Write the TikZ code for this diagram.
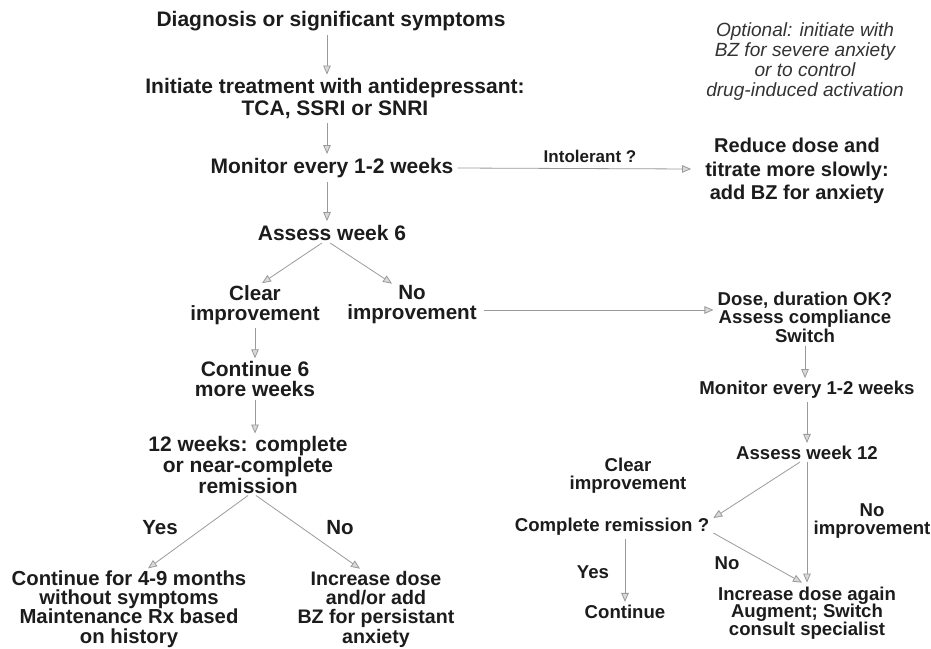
\documentclass[tikz,border=0pt]{standalone}
\usepackage{fontspec}
\setmainfont{Liberation Sans}
\usetikzlibrary{arrows.meta,calc}
\definecolor{ink}{HTML}{1C1C1C}
\definecolor{arrg}{HTML}{9A9A9A}
\tikzset{
  bf/.style 2 args={font=\bfseries\fontsize{#1}{#2}\selectfont, text=ink, align=center, inner sep=2pt},
  itl/.style={font=\itshape\fontsize{19.1}{20}\selectfont, text=ink!90, align=center, inner sep=2pt},
  lab/.style={font=\bfseries\fontsize{#1}{#1}\selectfont, text=ink, align=center, inner sep=1pt},
  arr/.style={draw=arrg, line width=0.8pt, -{Triangle[length=9pt,width=7.5pt,fill=gray!30,color=arrg]}}
}
\begin{document}
\begin{tikzpicture}[x=1pt,y=-1pt]
\useasboundingbox (0,0) rectangle (931,648);
% left column
\node[bf={21}{20}] (n1) at (331,21) {Diagnosis or significant symptoms};
\node[bf={21}{22}] (n2) at (335,99) {Initiate treatment with antidepressant:\\TCA, SSRI or SNRI};
\node[bf={21}{20}] (n3) at (332,168) {Monitor every 1-2 weeks};
\node[itl] (opt) at (805,62) {Optional: initiate with\\BZ for severe anxiety\\or to control\\drug-induced activation};
\node[bf={20}{23.5}] (n4) at (797,171) {Reduce dose and\\titrate more slowly:\\add BZ for anxiety};
\node[lab=17] (lint) at (590,156) {Intolerant ?};
\node[bf={21}{20}] (n5) at (332,233) {Assess week 6};
\node[bf={20.6}{20}] (n6) at (255,305) {Clear\\improvement};
\node[bf={20.6}{20}] (n7) at (412,305) {No\\improvement};
\node[bf={21}{19.5}] (n11) at (255,379) {Continue 6\\more weeks};
\node[bf={21}{19}] (n12) at (248,465) {12 weeks: complete\\or near-complete\\remission};
\node[lab=20.5] (lyes) at (160,528) {Yes};
\node[lab=20.5] (lno) at (340,528) {No};
\node[bf={20.3}{19.3}] (n13) at (129,609) {Continue for 4-9 months\\without symptoms\\Maintenance Rx based\\on history};
\node[bf={19.6}{19.3}] (n14) at (376,609) {Increase dose\\and/or add\\BZ for persistant\\anxiety};
% right column
\node[bf={18.6}{18.5}] (n8) at (805,317) {Dose, duration OK?\\Assess compliance\\Switch};
\node[bf={18.6}{18.5}] (n9) at (807,390) {Monitor every 1-2 weeks};
\node[bf={18.6}{18.5}] (n10) at (807,453) {Assess week 12};
\node[bf={18.6}{18}] (lci) at (628,476) {Clear\\improvement};
\node[bf={18.6}{17.8}] (lni) at (872,521) {No\\improvement};
\node[bf={18.6}{18.5}] (n15) at (612,527) {Complete remission ?};
\node[lab=18.6] (lyes2) at (593,572) {Yes};
\node[lab=18.6] (lno2) at (727,563) {No};
\node[bf={18.6}{18.5}] (n16) at (625,612) {Continue};
\node[bf={18.6}{17.5}] (n17) at (807,613) {Increase dose again\\Augment; Switch\\consult specialist};
% connectors
\draw[arr] ($(n1.south)+(-4,2)$) -- ($(n2.north)+(-8,-2)$);
\draw[arr] ($(n2.south)+(-8,2)$) -- ($(n3.north)+(-5,-2)$);
\draw[arr] ($(n3.south)+(-5,2)$) -- ($(n5.north)+(-5,-2)$);
\draw[arr] ($(n3.east)+(2,0)$) -- ($(n4.west)+(-12,-2)$);
\draw[arr] ($(n5.south)+(-10,0)$) -- ($(n6.north)+(7,0)$);
\draw[arr] ($(n5.south)+(-2,0)$) -- ($(n7.north)+(-20,0)$);
\draw[arr] ($(n7.east)+(5,5)$) -- ($(n8.west)+(-2,-7)$);
\draw[arr] ($(n6.south)+(0,1)$) -- ($(n11.north)+(0,-1)$);
\draw[arr] ($(n11.south)+(0,1)$) -- ($(n12.north)+(7,-1)$);
\draw[arr] ($(n8.south)+(0,1)$) -- ($(n9.north)+(-2,-1)$);
\draw[arr] ($(n9.south)+(0,1)$) -- ($(n10.north)+(0,-1)$);
\draw[arr] ($(n12.south)+(0,0)$) -- ($(n13.north)+(19,0)$);
\draw[arr] ($(n12.south)+(8,0)$) -- ($(n14.north)+(-16,0)$);
\draw[arr] ($(n10.south)+(-7,0)$) -- ($(n15.east)+(2,-9)$);
\draw[arr] ($(n10.south)+(0,0)$) -- ($(n17.north)+(0,-2)$);
\draw[arr] ($(n15.east)+(2,6)$) -- ($(n17.north)+(-5,-2)$);
\draw[arr] ($(n15.south)+(13,1)$) -- ($(n16.north)+(0,-1)$);
\end{tikzpicture}
\end{document}
